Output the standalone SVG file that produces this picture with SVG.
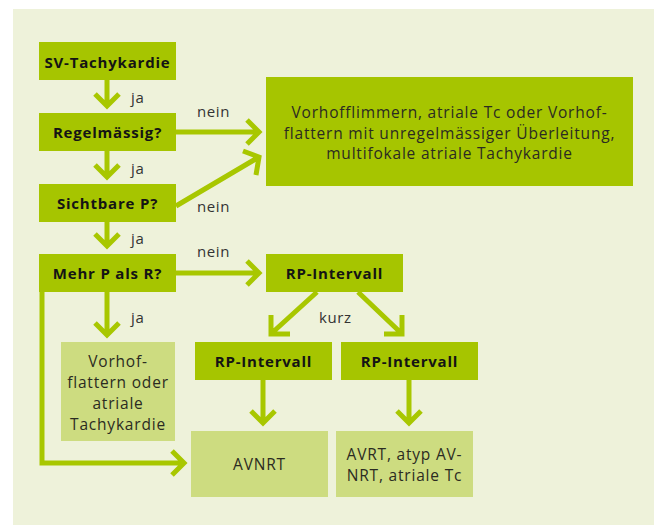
<svg xmlns="http://www.w3.org/2000/svg" width="654" height="525" viewBox="0 0 654 525">
  <style>
    .dark { fill: #a6c500; }
    .light { fill: #cddc80; }
    .lbl { font-family: "Open Sans", "Noto Sans", sans-serif; font-size: 15px; font-weight: bold; fill: #141414; text-anchor: middle; letter-spacing: 0.8px; }
    .txt { font-family: "Open Sans", "Noto Sans", sans-serif; font-size: 15.5px; fill: #2b2b22; text-anchor: middle; letter-spacing: 0.8px; }
    .edge { font-family: "Open Sans", "Noto Sans", sans-serif; font-size: 15px; fill: #333333; letter-spacing: 0.6px; }
    .con { fill: none; stroke: #a8c700; stroke-width: 5; stroke-linecap: butt; stroke-linejoin: miter; }
  </style>

  <!-- panel -->
  <rect x="13" y="9" width="641" height="516" fill="#eef2da"/>

  <!-- connectors -->
  <g id="connectors">
    <!-- SV-Tachykardie -> Regelmaessig -->
    <path class="con" d="M107,80 V106 M95,94 L107,106 L119,94"/>
    <!-- Regelmaessig -> Sichtbare P -->
    <path class="con" d="M107,151 V177 M95,165 L107,177 L119,165"/>
    <!-- Sichtbare P -> Mehr P -->
    <path class="con" d="M107,222 V246 M95,234 L107,246 L119,234"/>
    <!-- Mehr P -> Vorhofflattern -->
    <path class="con" d="M107,292 V335 M95,323 L107,335 L119,323"/>
    <!-- Regelmaessig -> big box -->
    <path class="con" d="M176,132 H259 M247,120 L259,132 L247,144"/>
    <!-- Sichtbare P -> big box -->
    <path class="con" d="M176,206 L259,157 M243,151 L259,157 L256,175"/>
    <!-- Mehr P -> RP-Intervall -->
    <path class="con" d="M176,273 H259 M247,261 L259,273 L247,285"/>
    <!-- Mehr P -> AVNRT (left loop) -->
    <path class="con" d="M42,292 V463 H184 M172,451 L184,463 L172,475"/>
    <!-- RP-Intervall -> RP-Intervall left -->
    <path class="con" d="M317,292 L273,332 M271,315 V334 H290"/>
    <!-- RP-Intervall -> RP-Intervall right -->
    <path class="con" d="M358,292 L400,332 M384,334 H402 V315"/>
    <!-- RP left -> AVNRT -->
    <path class="con" d="M263,380 V423 M251,411 L263,423 L275,411"/>
    <!-- RP right -> AVRT -->
    <path class="con" d="M409,380 V423 M397,411 L409,423 L421,411"/>
  </g>

  <!-- edge labels -->
  <g id="edge-labels">
    <text class="edge" x="131" y="103">ja</text>
    <text class="edge" x="131" y="174">ja</text>
    <text class="edge" x="131" y="244">ja</text>
    <text class="edge" x="131" y="323">ja</text>
    <text class="edge" x="197" y="117">nein</text>
    <text class="edge" x="197" y="212">nein</text>
    <text class="edge" x="197" y="257">nein</text>
    <text class="edge" x="319" y="323">kurz</text>
  </g>

  <g id="sv-tachykardie">
    <rect class="dark" x="39" y="42" width="137" height="38"/>
    <text class="lbl" x="107.5" y="67.5">SV-Tachykardie</text>
  </g>
  <g id="regelmaessig">
    <rect class="dark" x="39" y="113" width="137" height="38"/>
    <text class="lbl" x="107.5" y="138">Regelmässig?</text>
  </g>
  <g id="sichtbare-p">
    <rect class="dark" x="39" y="184" width="137" height="38"/>
    <text class="lbl" x="107.5" y="208.5">Sichtbare P?</text>
  </g>
  <g id="mehr-p-als-r">
    <rect class="dark" x="39" y="254" width="137" height="38"/>
    <text class="lbl" x="107.5" y="279">Mehr P als R?</text>
  </g>
  <g id="vorhofflimmern">
    <rect class="dark" x="266" y="77" width="367" height="109"/>
    <text class="txt" x="449.5" y="118">Vorhofflimmern, atriale Tc oder Vorhof-</text>
    <text class="txt" x="449.5" y="138.5">flattern mit unregelmässiger Überleitung,</text>
    <text class="txt" x="449.5" y="159">multifokale atriale Tachykardie</text>
  </g>
  <g id="rp-intervall">
    <rect class="dark" x="266" y="254" width="137" height="38"/>
    <text class="lbl" x="334.5" y="279">RP-Intervall</text>
  </g>
  <g id="rp-intervall-kurz">
    <rect class="dark" x="195" y="342" width="137" height="38"/>
    <text class="lbl" x="263.5" y="367">RP-Intervall</text>
  </g>
  <g id="rp-intervall-lang">
    <rect class="dark" x="341" y="342" width="137" height="38"/>
    <text class="lbl" x="409.5" y="367">RP-Intervall</text>
  </g>
  <g id="vorhofflattern">
    <rect class="light" x="61" y="342" width="114" height="99"/>
    <text class="txt" x="118" y="367">Vorhof-</text>
    <text class="txt" x="118" y="388">flattern oder</text>
    <text class="txt" x="118" y="409">atriale</text>
    <text class="txt" x="118" y="430">Tachykardie</text>
  </g>
  <g id="avnrt">
    <rect class="light" x="191" y="431" width="137" height="66"/>
    <text class="txt" x="259.5" y="470">AVNRT</text>
  </g>
  <g id="avrt">
    <rect class="light" x="336" y="431" width="137" height="66"/>
    <text class="txt" x="404.5" y="460">AVRT, atyp AV-</text>
    <text class="txt" x="404.5" y="481">NRT, atriale Tc</text>
  </g>
</svg>
